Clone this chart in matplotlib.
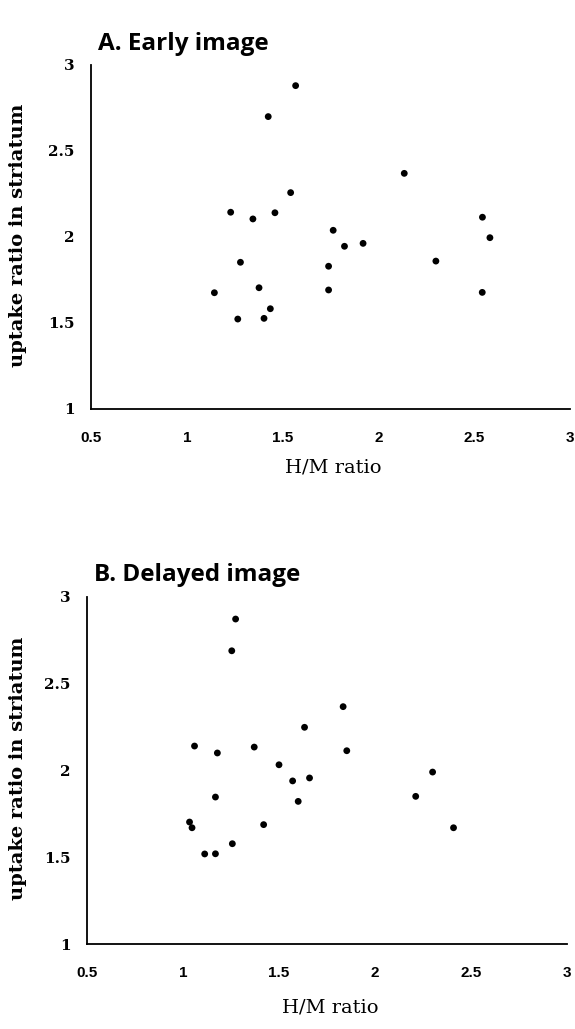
import matplotlib
matplotlib.use("Agg")
import matplotlib.pyplot as plt

# Panel A: Early image
early_hm = [1.568, 1.425, 2.135, 1.542, 1.229, 1.46, 1.345, 2.543, 1.764, 2.582, 1.823,
            1.92, 1.28, 2.30, 1.74, 1.377, 1.144, 1.74, 2.542, 1.436, 1.266, 1.403]
early_uptake = [2.88, 2.70, 2.37, 2.258, 2.144, 2.141, 2.105, 2.115, 2.039, 1.996, 1.946,
                1.963, 1.853, 1.86, 1.83, 1.705, 1.676, 1.692, 1.678, 1.583, 1.523, 1.527]

# Panel B: Delayed image
delayed_hm = [1.274, 1.254, 1.834, 1.633, 1.06, 1.371, 1.179, 1.853, 1.50, 2.30, 1.571,
              1.659, 1.169, 2.212, 1.60, 1.034, 1.047, 1.42, 2.409, 1.257, 1.113, 1.169]
delayed_uptake = [2.873, 2.69, 2.368, 2.249, 2.141, 2.135, 2.101, 2.114, 2.033, 1.991, 1.94,
                  1.957, 1.847, 1.851, 1.822, 1.703, 1.67, 1.688, 1.67, 1.578, 1.519, 1.52]

x_ticks = [0.5, 1, 1.5, 2, 2.5, 3]
x_tick_labels = ["0.5", "1", "1.5", "2", "2.5", "3"]
y_ticks = [1, 1.5, 2, 2.5, 3]
y_tick_labels = ["1", "1.5", "2", "2.5", "3"]

titles = ["A. Early image", "B. Delayed image"]
xlabel = "H/M ratio"
ylabel = "uptake ratio in striatum"

W, H = 575, 1029
fig = plt.figure(figsize=(W / 100, H / 100), dpi=100)

# (left, right, top, bottom) in pixels
boxes = [(91, 570, 65, 409), (87, 567, 597, 944)]
datasets = [(early_hm, early_uptake), (delayed_hm, delayed_uptake)]
title_pos = [(98, 44), (94, 575)]
ylabel_pos = [(18, 235), (18, 768)]
xlabel_pos = [(333, 468), (330, 1008)]

for (l, r, t, b), (xs, ys), title, tp, yp, xp in zip(boxes, datasets, titles,
                                                       title_pos, ylabel_pos, xlabel_pos):
    ax = fig.add_axes([l / W, 1 - b / H, (r - l) / W, (b - t) / H])
    ax.scatter(xs, ys, s=24, color="black", edgecolors="none", zorder=3)
    ax.set_xlim(0.5, 3)
    ax.set_ylim(1, 3)
    for side in ("top", "right"):
        ax.spines[side].set_visible(False)
    for side in ("left", "bottom"):
        ax.spines[side].set_linewidth(1.3)
        ax.spines[side].set_color("black")
    ax.set_xticks(x_ticks)
    ax.set_xticklabels(x_tick_labels, fontfamily="Liberation Sans", fontweight="bold",
                       fontsize=11)
    ax.set_yticks(y_ticks)
    ax.set_yticklabels(y_tick_labels, fontfamily="DejaVu Serif", fontweight="bold",
                       fontsize=11)
    ax.tick_params(axis="x", length=0, pad=16)
    ax.tick_params(axis="y", length=0, pad=12)
    ax.patch.set_alpha(0)

    fig.text(tp[0] / W, 1 - tp[1] / H, title, fontfamily="Open Sans", fontweight="bold",
             fontsize=17.5, ha="left", va="center")
    fig.text(yp[0] / W, 1 - yp[1] / H, ylabel, fontfamily="DejaVu Serif", fontweight="bold",
             fontsize=14, rotation=90, ha="center", va="center")
    fig.text(xp[0] / W, 1 - xp[1] / H, xlabel, fontfamily="DejaVu Serif",
             fontsize=14, ha="center", va="center")

fig.savefig("out.png", dpi=100, facecolor="white")
